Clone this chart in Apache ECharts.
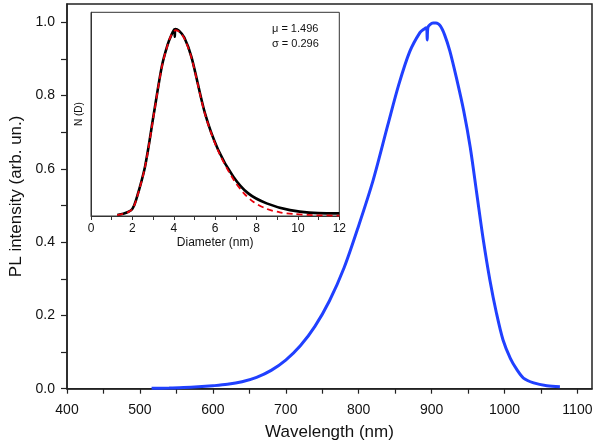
<!DOCTYPE html>
<html>
<head>
<meta charset="utf-8">
<script src="https://cdn.jsdelivr.net/npm/echarts@6/dist/echarts.min.js"></script>
<style>
html,body{margin:0;padding:0;background:#fff;}
#chart{width:600px;height:447px;}
</style>
</head>
<body>
<div id="chart"></div>
<script>
// ---- Main PL spectrum (wavelength nm, normalized intensity) ----
const wavelength = [516, 540, 560, 580, 600, 620, 640, 660, 680, 700, 720, 740, 760, 780, 800, 820, 840, 855, 870, 884, 890, 893, 894, 895, 902, 906, 912, 918, 925, 934, 944, 953, 962, 971, 980, 989, 998, 1008, 1017, 1026, 1040, 1058, 1076];
const plIntensity = [0.001, 0.002, 0.003, 0.005, 0.008, 0.012, 0.019, 0.031, 0.050, 0.078, 0.117, 0.170, 0.240, 0.330, 0.445, 0.570, 0.720, 0.830, 0.920, 0.972, 0.982, 0.985, 0.952, 0.986, 0.998, 0.998, 0.990, 0.965, 0.922, 0.849, 0.759, 0.659, 0.532, 0.405, 0.296, 0.206, 0.133, 0.083, 0.052, 0.029, 0.016, 0.008, 0.005];

// ---- Inset: size distribution N(D) ----
const diameter = [1.27, 1.56, 1.80, 2.0, 2.18, 2.61, 3.04, 3.42, 3.70, 3.90, 4.03, 4.05, 4.07, 4.25, 4.51, 4.86, 5.51, 6.15, 6.88, 7.60, 8.49, 9.62, 11.39, 12.0];
const nDist = [0.005, 0.011, 0.020, 0.035, 0.079, 0.242, 0.504, 0.733, 0.840, 0.892, 0.916, 0.88, 0.918, 0.910, 0.876, 0.779, 0.504, 0.324, 0.193, 0.111, 0.062, 0.029, 0.013, 0.013];
const fitDiameter = [1.27, 1.56, 1.80, 2.0, 2.18, 2.61, 3.04, 3.42, 3.70, 3.90, 4.10, 4.25, 4.51, 4.86, 5.51, 6.15, 6.88, 7.36, 7.84, 8.49, 9.13, 9.78, 10.74, 12.0];
const fitValues = [0.004, 0.010, 0.019, 0.034, 0.077, 0.240, 0.500, 0.730, 0.838, 0.892, 0.912, 0.905, 0.872, 0.775, 0.500, 0.318, 0.180, 0.115, 0.070, 0.035, 0.018, 0.010, 0.004, 0.002];

// ---- Tick labels ----
const xTickLabels = [400, 500, 600, 700, 800, 900, 1000, 1100];
const xTicks = [400, 450, 500, 550, 600, 650, 700, 750, 800, 850, 900, 950, 1000, 1050, 1100];
const yTickLabels = [0, 0.2, 0.4, 0.6, 0.8, 1.0];
const yTicks = [0, 0.1, 0.2, 0.3, 0.4, 0.5, 0.6, 0.7, 0.8, 0.9, 1.0];
const insetXTickLabels = [0, 2, 4, 6, 8, 10, 12];
const insetXTicks = [0, 1, 2, 3, 4, 5, 6, 7, 8, 9, 10, 11, 12];

const muText = '\u03bc = 1.496';
const sigmaText = '\u03c3 = 0.296';

const FONT = 'Liberation Sans, Arial, sans-serif';
const zip = (a, b) => a.map((v, i) => [v, b[i]]);

const chart = echarts.init(document.getElementById('chart'), null, {renderer: 'canvas'});
chart.setOption({
  animation: false,
  backgroundColor: '#fff',
  grid: [
    {left: 67, right: 8, top: 4, bottom: 58.3, containLabel: false, outerBoundsMode: 'none',
     show: true, borderColor: '#222', borderWidth: 1.5, backgroundColor: 'transparent'},
    {left: 91, right: 260.7, top: 12.3, bottom: 231, containLabel: false, outerBoundsMode: 'none',
     show: true, borderColor: '#333', borderWidth: 1, backgroundColor: '#fff', z: 5}
  ],
  xAxis: [
    {gridIndex: 0, type: 'value', min: 400, max: 1120, splitLine: {show: false},
     axisLine: {lineStyle: {color: '#222', width: 1.5}},
     axisTick: {show: true, inside: false, length: 5, customValues: xTicks, lineStyle: {color: '#222', width: 1.2}},
     axisLabel: {customValues: xTickLabels, margin: 14, fontSize: 14, color: '#111', fontFamily: FONT,
                 formatter: v => String(v)},
     name: 'Wavelength (nm)', nameLocation: 'middle', nameGap: 35,
     nameTextStyle: {fontSize: 17, color: '#111', fontFamily: FONT}},
    {gridIndex: 1, type: 'value', min: 0, max: 12, splitLine: {show: false},
     axisLine: {lineStyle: {color: '#333', width: 1}},
     axisTick: {show: true, inside: false, length: 4, customValues: insetXTicks, lineStyle: {color: '#333', width: 1}},
     axisLabel: {customValues: insetXTickLabels, margin: 7, fontSize: 12, color: '#111', fontFamily: FONT,
                 formatter: v => String(v)},
     name: 'Diameter (nm)', nameLocation: 'middle', nameGap: 21,
     nameTextStyle: {fontSize: 12, color: '#111', fontFamily: FONT}, z: 6}
  ],
  yAxis: [
    {gridIndex: 0, type: 'value', min: 0, max: 1.05, splitLine: {show: false},
     axisLine: {show: true, lineStyle: {color: '#222', width: 1.5}},
     axisTick: {show: true, inside: false, length: 6, customValues: yTicks, lineStyle: {color: '#222', width: 1.2}},
     axisLabel: {customValues: yTickLabels, margin: 12, fontSize: 14, color: '#111', fontFamily: FONT,
                 formatter: v => Number(v).toFixed(1)},
     name: 'PL intensity (arb. un.)', nameLocation: 'middle', nameGap: 37, nameRotate: 90,
     nameTextStyle: {fontSize: 17, color: '#111', fontFamily: FONT}},
    {gridIndex: 1, type: 'value', min: 0, max: 1, splitLine: {show: false},
     axisLine: {show: true, lineStyle: {color: '#333', width: 1}},
     axisTick: {show: false}, axisLabel: {show: false},
     name: 'N (D)', nameLocation: 'middle', nameGap: 7, nameRotate: 90,
     nameTextStyle: {fontSize: 10, color: '#111', fontFamily: FONT}, z: 6}
  ],
  graphic: [
    {type: 'text', left: 272, top: 23, z: 100,
     style: {text: muText, font: '11px ' + FONT, fill: '#111'}},
    {type: 'text', left: 272, top: 38, z: 100,
     style: {text: sigmaText, font: '11px ' + FONT, fill: '#111'}}
  ],
  series: [
    {type: 'line', xAxisIndex: 0, yAxisIndex: 0, data: zip(wavelength, plIntensity),
     showSymbol: false, smooth: 0.3, lineStyle: {color: '#2040ff', width: 3}, z: 2},
    {type: 'line', xAxisIndex: 1, yAxisIndex: 1, data: zip(diameter, nDist),
     showSymbol: false, smooth: 0.3, lineStyle: {color: '#000', width: 2.6}, z: 10},
    {type: 'line', xAxisIndex: 1, yAxisIndex: 1, data: zip(fitDiameter, fitValues),
     showSymbol: false, smooth: 0.3, lineStyle: {color: '#e8000b', width: 1.8, type: [6, 4]}, z: 11}
  ]
});
</script>
</body>
</html>
